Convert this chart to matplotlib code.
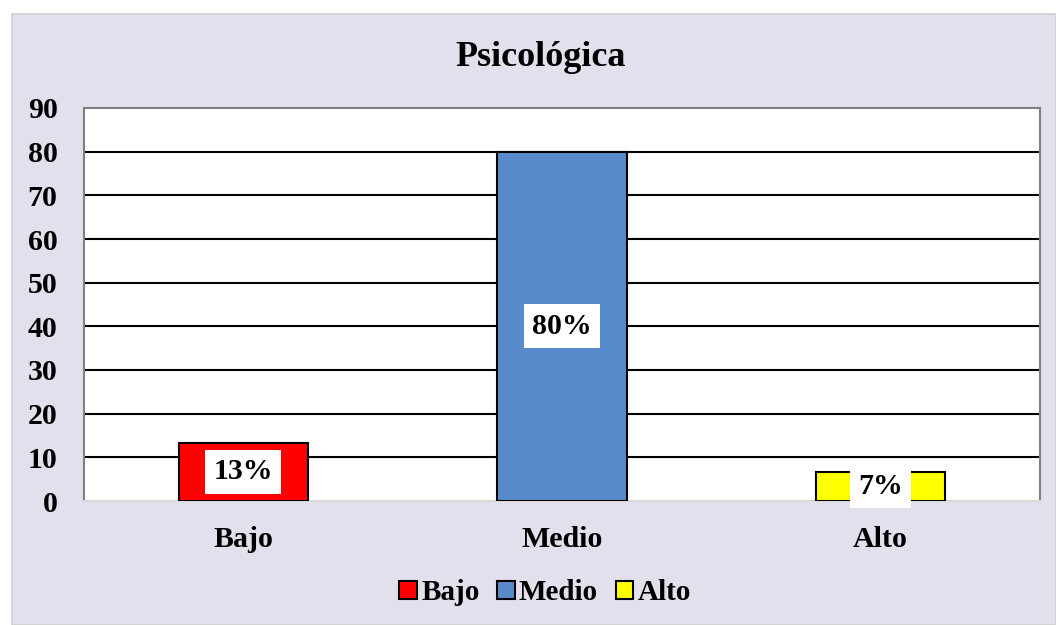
import matplotlib
matplotlib.use("Agg")
import matplotlib.pyplot as plt
from matplotlib.patches import Rectangle, Patch

categories = ["Bajo", "Medio", "Alto"]
values = [13.33, 80.0, 6.67]
labels = ["13%", "80%", "7%"]
colors = ["#FF0000", "#588BCB", "#FFFF00"]
yticks = [0, 10, 20, 30, 40, 50, 60, 70, 80, 90]

plt.rcParams['font.family'] = ['Liberation Serif', 'DejaVu Serif']
plt.rcParams['font.weight'] = 'bold'

W, H = 1056, 625
fig = plt.figure(figsize=(W/100, H/100), dpi=100)
fig.patch.set_facecolor("white")
bg = Rectangle((12/W, 0), 1 - 12/W, 1 - 14/H, transform=fig.transFigure,
               facecolor="#E4DFEC", edgecolor="#D0D0D0", linewidth=1.2, zorder=-10)
fig.patches.append(bg)

ax = fig.add_axes([84/W, 1 - 501/H, (1040-84)/W, (501-108)/H])
ax.set_facecolor("white")
x = range(len(categories))
bars = ax.bar(x, values, width=0.405, color=colors, edgecolor="black", linewidth=1.5, zorder=3)
ax.set_xlim(-0.5, 2.5)
ax.set_ylim(0, 90)
ax.set_yticks(yticks)
ax.set_yticklabels([str(t) for t in yticks], fontsize=21.5, fontweight='bold')
ax.set_xticks(list(x))
ax.set_xticklabels(categories, fontsize=21.5, fontweight='bold')
ax.tick_params(axis='both', length=0)
ax.tick_params(axis='y', pad=19)
ax.tick_params(axis='x', pad=18)
for t in yticks[1:-1]:
    ax.axhline(t, color="black", linewidth=1.5, zorder=1)
for s in ax.spines.values():
    s.set_color("#808080")
    s.set_linewidth(1.5)
ax.spines['bottom'].set_color("#D9D9D9")

for xi, v, lab in zip(x, values, labels):
    ax.text(xi, v/2, lab, ha='center', va='center', fontsize=21.5, fontweight='bold', zorder=5,
            bbox=dict(facecolor='white', edgecolor='none', pad=6))

fig.text(541/W, 1 - 57/H, "Psicológica", ha='center', va='center', fontsize=26, fontweight='bold')

handles = [Patch(facecolor=c, edgecolor='black', linewidth=1.5) for c in colors]
leg = fig.legend(handles, categories, loc='center', bbox_to_anchor=(545/W, 1 - 593/H), ncol=3,
                 frameon=False, handlelength=0.6, handleheight=0.6,
                 handletextpad=0.15, columnspacing=0.6, prop={'weight': 'bold', 'size': 21})

fig.savefig("out.png", dpi=100)
